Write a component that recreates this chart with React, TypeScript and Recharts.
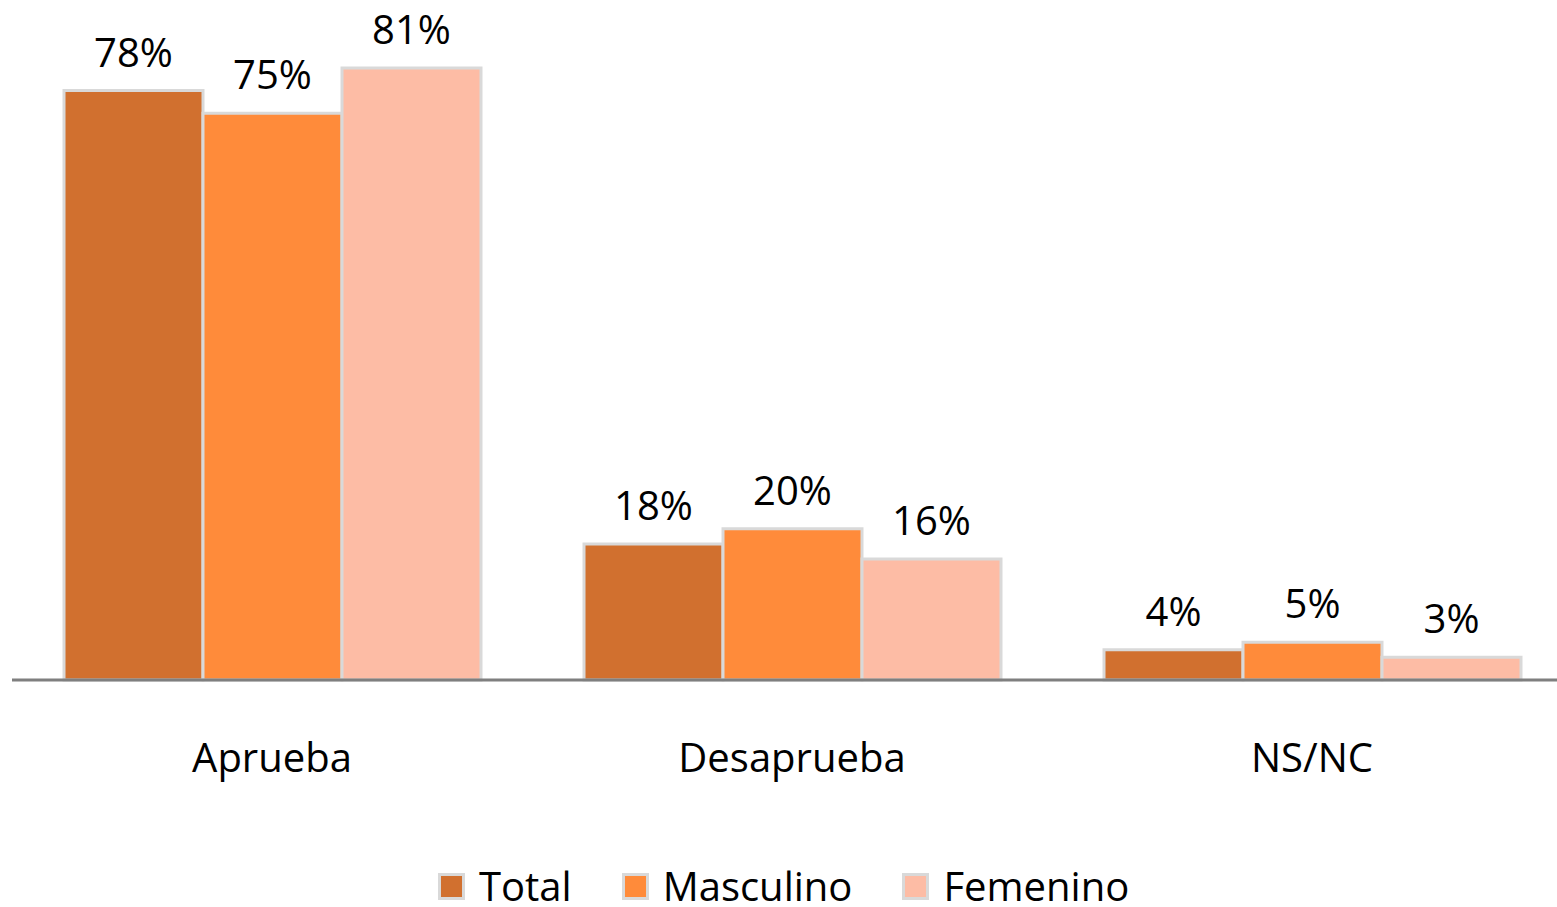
import React from "react";
import { BarChart, Bar, XAxis, YAxis, LabelList } from "recharts";

const categories = ["Aprueba", "Desaprueba", "NS/NC"];
const total = [78, 18, 4];
const masculino = [75, 20, 5];
const femenino = [81, 16, 3];

const seriesNames = ["Total", "Masculino", "Femenino"];
const seriesKeys = ["total", "masculino", "femenino"];
const colors = ["#D1702F", "#FF8B3A", "#FDBCA5"];

const data = categories.map((c, i) => ({
  name: c,
  total: total[i],
  masculino: masculino[i],
  femenino: femenino[i],
}));

const FONT = "'Open Sans', 'DejaVu Sans', sans-serif";

export default function App() {
  return (
    <div style={{ position: "relative", width: 1557, height: 907, overflow: "hidden", background: "#fff" }}>
      <style>{`body{margin:0;overflow:hidden;}`}</style>
      <BarChart
        width={1572}
        height={907}
        data={data}
        margin={{ top: 15, right: 0, left: 12, bottom: 127 }}
        barCategoryGap="10%"
        barGap={0}
      >
        <XAxis
          dataKey="name"
          height={100}
          tickLine={false}
          tickSize={0}
          tickMargin={64}
          axisLine={{ stroke: "#7f7f7f", strokeWidth: 3 }}
          tick={{ fill: "#000", fontSize: 40, fontFamily: FONT }}
        />
        <YAxis hide domain={[0, 88]} />
        {seriesKeys.map((k, i) => (
          <Bar
            key={k}
            dataKey={k}
            name={seriesNames[i]}
            fill={colors[i]}
            stroke="#d9d9d9"
            strokeWidth={3}
            isAnimationActive={false}
          >
            <LabelList
              dataKey={k}
              position="top"
              offset={24}
              formatter={(v: number) => `${v}%`}
              style={{ fill: "#000", fontSize: 40, fontFamily: FONT }}
            />
          </Bar>
        ))}
      </BarChart>
      <div
        style={{
          position: "absolute",
          left: 438,
          top: 866,
          height: 40,
          display: "flex",
          alignItems: "center",
          fontFamily: FONT,
          fontSize: 40,
          lineHeight: "40px",
          color: "#000",
          whiteSpace: "nowrap",
        }}
      >
        {seriesNames.map((n, i) => (
          <div key={n} style={{ display: "flex", alignItems: "center", height: 40, marginRight: i < 2 ? 50 : 0 }}>
            <span
              style={{
                display: "inline-block",
                width: 21,
                height: 21,
                background: colors[i],
                border: "3px solid #d9d9d9",
                marginRight: 14,
              }}
            />
            <span style={{ lineHeight: "40px", height: 40 }}>{n}</span>
          </div>
        ))}
      </div>
    </div>
  );
}
